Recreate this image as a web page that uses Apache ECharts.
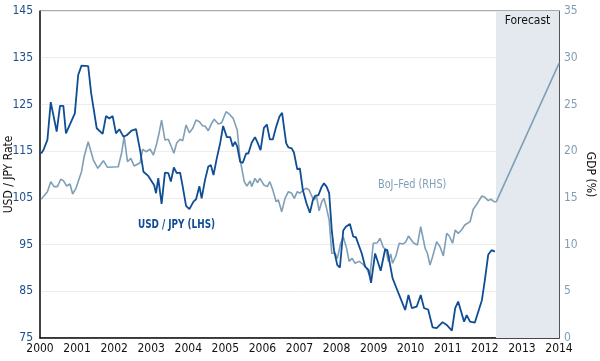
<!DOCTYPE html>
<html>
<head>
<meta charset="utf-8">
<script src="https://cdn.jsdelivr.net/npm/echarts@6/dist/echarts.min.js"></script>
<style>
html,body{margin:0;padding:0;background:#fff;}
#c{width:600px;height:361px;}
</style>
</head>
<body>
<div id="c"></div>
<script>
// ---- data ----
const xTicks = [2000,2001,2002,2003,2004,2005,2006,2007,2008,2009,2010,2011,2012,2013,2014];
const leftTicks = [75,85,95,105,115,125,135,145];
const rightTicks = [0,5,10,15,20,25,30,35];
const forecastStart = 2012.3;
const forecastEnd = 2014;

// USD / JPY (LHS): [year, rate]
const usdJpy = [
[2000.03,114.5],[2000.09,115.2],[2000.20,117.4],[2000.29,125.5],[2000.45,119.2],[2000.54,124.7],[2000.63,124.7],[2000.70,118.8],
[2000.94,123.1],[2001.03,131.3],[2001.12,133.3],[2001.30,133.2],[2001.38,127.4],[2001.53,119.9],[2001.69,118.7],[2001.78,122.5],
[2001.87,122.0],[2001.96,122.5],[2002.05,118.8],[2002.14,119.7],[2002.25,118.1],[2002.34,118.4],[2002.47,119.4],[2002.59,119.7],
[2002.62,120.0],[2002.70,115.2],[2002.79,110.6],[2002.92,109.7],[2003.08,107.7],[2003.13,106.0],[2003.19,109.2],[2003.28,103.7],
[2003.37,110.4],[2003.46,110.3],[2003.53,108.5],[2003.61,111.5],[2003.69,110.3],[2003.78,110.4],[2003.85,107.4],[2003.94,103.3],
[2004.03,102.6],[2004.14,104.2],[2004.21,104.7],[2004.30,107.5],[2004.36,104.9],[2004.45,108.8],[2004.54,111.7],[2004.61,112.0],
[2004.68,109.9],[2004.77,113.5],[2004.86,116.7],[2004.94,120.4],[2005.04,118.0],[2005.13,118.0],[2005.20,116.0],[2005.26,117.0],
[2005.32,116.0],[2005.40,112.7],[2005.47,112.5],[2005.56,114.5],[2005.62,114.5],[2005.71,116.8],[2005.80,118.0],[2005.86,117.0],
[2005.95,115.2],[2006.04,120.0],[2006.12,120.7],[2006.20,117.5],[2006.28,117.5],[2006.37,120.2],[2006.46,122.4],[2006.53,123.2],
[2006.64,116.7],[2006.70,115.8],[2006.79,115.6],[2006.85,114.7],[2006.94,111.1],[2007.01,111.3],[2007.09,106.7],[2007.19,103.8],
[2007.28,101.8],[2007.36,104.5],[2007.42,105.4],[2007.51,105.6],[2007.60,107.4],[2007.66,108.1],[2007.73,107.4],[2007.80,106.0],
[2007.87,98.1],[2007.93,93.8],[2008.02,90.6],[2008.09,90.1],[2008.18,98.0],[2008.25,98.8],[2008.36,99.4],[2008.45,96.7],
[2008.52,96.6],[2008.68,93.1],[2008.77,90.3],[2008.86,89.6],[2008.93,86.8],[2009.04,93.1],[2009.19,89.4],[2009.31,94.0],
[2009.37,93.8],[2009.51,87.8],[2009.62,85.6],[2009.71,83.8],[2009.85,81.0],[2009.94,84.2],[2010.03,81.4],[2010.16,81.7],
[2010.27,84.2],[2010.36,81.4],[2010.47,81.1],[2010.59,77.3],[2010.70,77.1],[2010.86,78.4],[2010.97,77.8],[2011.11,76.6],
[2011.20,81.4],[2011.28,82.8],[2011.44,78.5],[2011.51,79.9],[2011.60,78.5],[2011.73,78.3],[2011.92,83.1],[2012.00,87.4],
[2012.09,92.8],[2012.18,93.8],[2012.27,93.5]
];

// BoJ–Fed (RHS): [year, % of GDP]
const bojFed = [
[2000.03,14.85],[2000.20,15.66],[2000.29,16.73],[2000.38,16.2],[2000.47,16.2],[2000.56,16.99],[2000.63,16.84],[2000.72,16.27],
[2000.81,16.48],[2000.88,15.41],[2000.97,16.02],[2001.12,17.8],[2001.19,19.4],[2001.30,21.0],[2001.44,19.05],[2001.56,18.16],
[2001.71,18.98],[2001.82,18.27],[2002.11,18.33],[2002.20,19.77],[2002.27,21.55],[2002.36,18.87],[2002.45,19.23],[2002.54,18.41],
[2002.70,18.76],[2002.77,20.2],[2002.86,19.94],[2002.97,20.2],[2003.06,19.59],[2003.15,20.84],[2003.22,22.08],[2003.28,23.33],
[2003.37,21.19],[2003.46,21.27],[2003.55,20.41],[2003.61,19.77],[2003.69,20.9],[2003.78,21.27],[2003.85,21.12],[2003.94,22.8],
[2004.03,21.97],[2004.12,22.44],[2004.21,23.33],[2004.30,23.15],[2004.39,22.69],[2004.45,22.69],[2004.54,22.19],[2004.63,22.98],
[2004.70,23.41],[2004.81,22.9],[2004.90,23.04],[2005.02,24.22],[2005.13,23.87],[2005.21,23.51],[2005.32,22.26],[2005.40,19.05],
[2005.51,16.73],[2005.58,16.27],[2005.67,16.8],[2005.71,16.2],[2005.80,17.09],[2005.87,16.62],[2005.93,17.09],[2006.04,16.38],
[2006.13,16.2],[2006.20,16.73],[2006.28,15.84],[2006.37,14.59],[2006.43,14.77],[2006.52,13.52],[2006.61,14.95],[2006.70,15.66],
[2006.79,15.49],[2006.86,14.95],[2006.94,15.66],[2007.01,15.49],[2007.10,15.84],[2007.19,16.02],[2007.26,15.84],[2007.33,15.2],
[2007.39,14.77],[2007.46,15.12],[2007.53,13.62],[2007.60,14.59],[2007.66,14.95],[2007.73,13.88],[2007.80,12.63],[2007.87,9.07],
[2007.96,9.07],[2008.02,8.5],[2008.11,10.14],[2008.18,10.8],[2008.27,9.6],[2008.34,8.2],[2008.42,8.53],[2008.50,8.0],
[2008.61,8.2],[2008.71,7.9],[2008.81,7.46],[2008.90,6.6],[2008.99,10.14],[2009.10,10.2],[2009.17,10.67],[2009.26,9.71],
[2009.33,9.42],[2009.40,8.17],[2009.46,8.99],[2009.51,8.0],[2009.60,8.78],[2009.69,10.14],[2009.80,10.06],[2009.87,10.31],
[2009.94,10.92],[2010.07,10.2],[2010.18,9.95],[2010.27,11.91],[2010.39,9.6],[2010.45,9.07],[2010.52,7.81],[2010.59,8.7],
[2010.70,10.31],[2010.79,9.77],[2010.88,8.78],[2010.97,11.2],[2011.04,10.92],[2011.13,10.14],[2011.20,11.56],[2011.28,11.2],
[2011.37,11.56],[2011.46,12.09],[2011.60,12.45],[2011.69,13.8],[2011.78,14.3],[2011.92,15.2],[2012.00,15.06],[2012.09,14.7],
[2012.16,14.85],[2012.25,14.59],[2012.31,14.6],[2014.0,29.4]
];

const labelFont = '"Liberation Sans Narrow","DejaVu Sans Condensed",Roboto,sans-serif';
const dark = '#0f4d94';
const light = '#7f9fb6';

const chart = echarts.init(document.getElementById('c'), null, {renderer:'canvas'});
chart.setOption({
  animation:false,
  backgroundColor:'#fff',
  grid:{left:40,right:41,top:11,bottom:23,containLabel:false,outerBoundsMode:'none',
        show:true,borderColor:'#555',borderWidth:1,backgroundColor:'transparent'},
  xAxis:{
    type:'value',min:xTicks[0],max:xTicks[xTicks.length-1],interval:1,
    axisLine:{show:true,lineStyle:{color:'#111',width:1.5}},
    axisTick:{show:false},
    splitLine:{show:false},
    axisLabel:{color:'#111',fontFamily:labelFont,fontSize:12,margin:5,formatter:v=>String(v)}
  },
  yAxis:[
    {type:'value',min:leftTicks[0],max:leftTicks[leftTicks.length-1],interval:10,position:'left',
     name:'USD / JPY Rate',nameLocation:'middle',nameGap:25,nameRotate:90,nameMoveOverlap:false,
     nameTextStyle:{color:'#111',fontFamily:labelFont,fontSize:12},
     axisLine:{show:true,lineStyle:{color:'#222',width:1.5}},axisTick:{show:false},
     splitLine:{show:true,lineStyle:{color:'#ececec',width:1}},
     axisLabel:{color:'#1d4f8e',fontFamily:labelFont,fontSize:12,margin:7}},
    {type:'value',min:rightTicks[0],max:rightTicks[rightTicks.length-1],interval:5,position:'right',
     name:'GDP (%)',nameLocation:'middle',nameGap:25,nameRotate:-90,nameMoveOverlap:false,
     nameTextStyle:{color:'#111',fontFamily:labelFont,fontSize:12},
     axisLine:{show:true,lineStyle:{color:'#555',width:1}},axisTick:{show:false},
     splitLine:{show:false},
     axisLabel:{color:'#7f9fb6',fontFamily:labelFont,fontSize:12,margin:5}}
  ],
  series:[
    {type:'line',name:'BoJ–Fed (RHS)',yAxisIndex:1,data:bojFed,showSymbol:false,
     lineStyle:{color:light,width:1.6},itemStyle:{color:light},z:2,
     markArea:{silent:true,itemStyle:{color:'#e4e9f0'},
       label:{show:true,position:'insideTop',distance:4,color:'#111',fontFamily:labelFont,fontSize:12,fontWeight:'normal'},
       data:[[{name:'Forecast',xAxis:forecastStart},{xAxis:forecastEnd}]]}},
    {type:'line',name:'USD / JPY (LHS)',yAxisIndex:0,data:usdJpy,showSymbol:false,
     lineStyle:{color:dark,width:1.8},itemStyle:{color:dark},z:3}
  ],
  graphic:[
    {type:'text',x:138,y:219,scaleX:0.82,style:{text:'USD / JPY (LHS)',fill:dark,font:'bold 12px '+labelFont}},
    {type:'text',x:378,y:179,scaleX:0.9,style:{text:'BoJ–Fed (RHS)',fill:light,font:'12px '+labelFont}}
  ]
});
</script>
</body>
</html>
